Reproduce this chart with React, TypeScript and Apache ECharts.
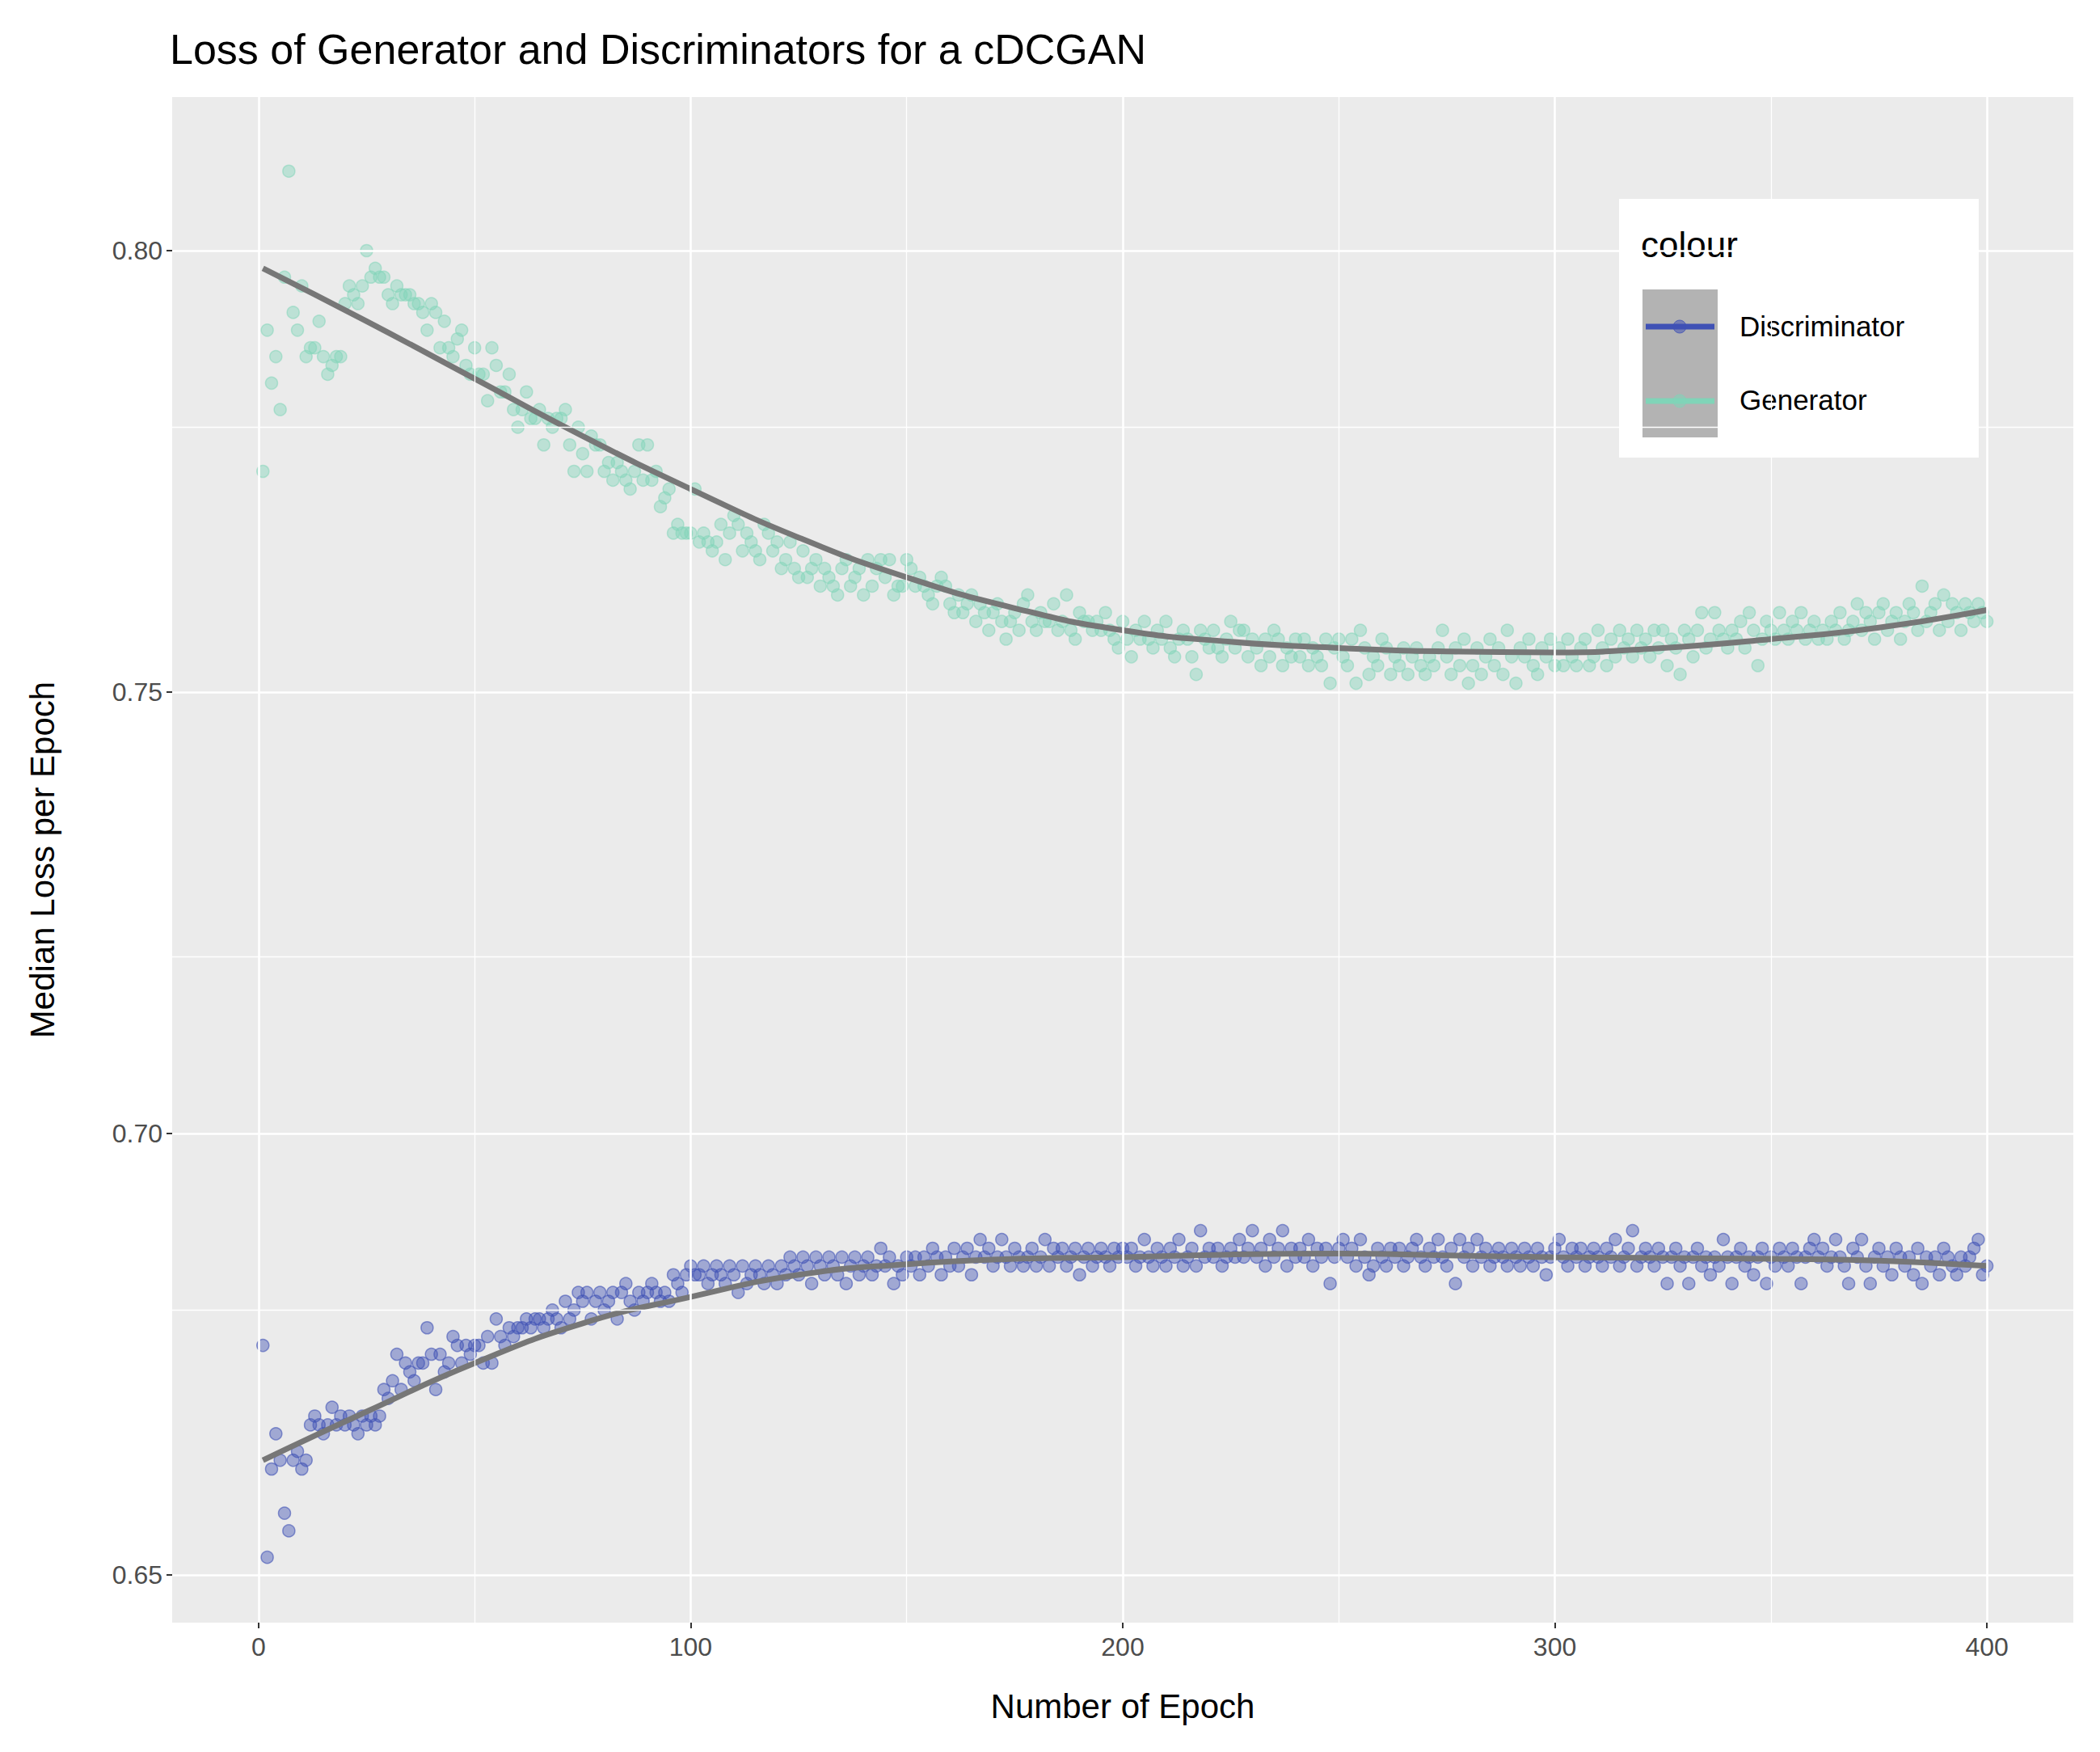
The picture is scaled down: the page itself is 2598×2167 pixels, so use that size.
import React, { useEffect, useRef } from "react";
import * as echarts from "echarts";

const genLoss: number[] = [
0.775,0.791,0.785,0.788,0.782,0.797,0.809,0.793,0.791,0.796,0.788,0.789,0.789,0.792,0.788,0.786,0.787,0.788,0.788,0.794,
0.796,0.795,0.794,0.796,0.800,0.797,0.798,0.797,0.797,0.795,0.794,0.796,0.795,0.795,0.795,0.794,0.794,0.793,0.791,0.794,
0.793,0.789,0.792,0.789,0.788,0.790,0.791,0.787,0.786,0.789,0.786,0.786,0.783,0.789,0.787,0.784,0.784,0.786,0.782,0.780,
0.782,0.784,0.781,0.781,0.782,0.778,0.781,0.780,0.781,0.781,0.782,0.778,0.775,0.780,0.777,0.775,0.779,0.778,0.778,0.775,
0.776,0.774,0.776,0.775,0.774,0.773,0.775,0.778,0.774,0.778,0.774,0.775,0.771,0.772,0.773,0.768,0.769,0.768,0.768,0.768,
0.773,0.767,0.768,0.767,0.766,0.767,0.769,0.765,0.768,0.770,0.769,0.766,0.768,0.767,0.766,0.765,0.769,0.768,0.766,0.767,
0.764,0.765,0.767,0.764,0.763,0.766,0.763,0.764,0.765,0.762,0.764,0.763,0.762,0.761,0.764,0.765,0.762,0.763,0.764,0.761,
0.765,0.762,0.764,0.765,0.763,0.765,0.761,0.762,0.762,0.765,0.764,0.762,0.763,0.762,0.761,0.760,0.762,0.763,0.762,0.760,
0.759,0.761,0.759,0.760,0.761,0.758,0.760,0.759,0.757,0.759,0.760,0.758,0.756,0.758,0.759,0.757,0.760,0.761,0.758,0.757,
0.759,0.758,0.758,0.760,0.757,0.758,0.761,0.757,0.756,0.759,0.758,0.758,0.757,0.758,0.757,0.759,0.757,0.756,0.755,0.758,
0.756,0.754,0.757,0.756,0.758,0.756,0.755,0.757,0.756,0.758,0.755,0.754,0.756,0.757,0.756,0.754,0.752,0.757,0.756,0.755,
0.757,0.755,0.754,0.756,0.758,0.755,0.757,0.757,0.754,0.756,0.755,0.753,0.756,0.754,0.757,0.756,0.753,0.755,0.754,0.756,
0.754,0.756,0.753,0.755,0.754,0.753,0.756,0.751,0.755,0.756,0.754,0.753,0.756,0.751,0.757,0.755,0.752,0.754,0.753,0.756,
0.755,0.752,0.754,0.753,0.755,0.752,0.754,0.755,0.753,0.752,0.754,0.753,0.755,0.757,0.754,0.752,0.755,0.753,0.756,0.751,
0.753,0.755,0.752,0.754,0.756,0.753,0.755,0.752,0.757,0.754,0.751,0.755,0.754,0.756,0.753,0.752,0.755,0.754,0.756,0.753,
0.755,0.753,0.756,0.754,0.753,0.755,0.756,0.753,0.754,0.757,0.755,0.753,0.756,0.754,0.757,0.755,0.756,0.754,0.757,0.755,
0.756,0.754,0.757,0.755,0.757,0.753,0.756,0.755,0.752,0.757,0.756,0.754,0.757,0.759,0.755,0.756,0.759,0.757,0.756,0.755,
0.757,0.756,0.758,0.755,0.759,0.757,0.753,0.756,0.758,0.757,0.756,0.759,0.757,0.756,0.758,0.757,0.759,0.756,0.757,0.758,
0.756,0.757,0.756,0.758,0.757,0.759,0.756,0.757,0.758,0.760,0.757,0.759,0.758,0.756,0.759,0.760,0.757,0.758,0.759,0.756,
0.758,0.760,0.759,0.757,0.762,0.758,0.759,0.760,0.757,0.761,0.758,0.760,0.759,0.757,0.760,0.759,0.758,0.760,0.759,0.758,
];

const discLoss: number[] = [
0.676,0.652,0.662,0.666,0.663,0.657,0.655,0.663,0.664,0.662,0.663,0.667,0.668,0.667,0.666,0.667,0.669,0.667,0.668,0.667,
0.668,0.667,0.666,0.668,0.667,0.668,0.667,0.668,0.671,0.670,0.672,0.675,0.671,0.674,0.673,0.672,0.674,0.674,0.678,0.675,
0.671,0.675,0.673,0.674,0.677,0.676,0.674,0.676,0.675,0.676,0.676,0.674,0.677,0.674,0.679,0.677,0.676,0.678,0.677,0.678,
0.678,0.679,0.678,0.679,0.679,0.678,0.679,0.680,0.679,0.678,0.681,0.679,0.680,0.682,0.681,0.682,0.679,0.681,0.682,0.680,
0.681,0.682,0.679,0.682,0.683,0.681,0.680,0.682,0.681,0.682,0.683,0.682,0.681,0.682,0.681,0.684,0.683,0.682,0.684,0.685,
0.684,0.684,0.685,0.683,0.684,0.685,0.684,0.683,0.685,0.684,0.682,0.685,0.683,0.684,0.685,0.684,0.683,0.685,0.684,0.683,
0.685,0.684,0.686,0.685,0.684,0.686,0.685,0.683,0.686,0.685,0.684,0.686,0.685,0.684,0.686,0.683,0.685,0.686,0.684,0.685,
0.686,0.684,0.685,0.687,0.685,0.686,0.683,0.685,0.684,0.686,0.685,0.686,0.684,0.686,0.685,0.687,0.686,0.684,0.686,0.685,
0.687,0.685,0.686,0.687,0.684,0.686,0.688,0.686,0.687,0.685,0.686,0.688,0.686,0.685,0.687,0.686,0.685,0.686,0.687,0.685,
0.686,0.688,0.685,0.687,0.686,0.687,0.685,0.686,0.687,0.684,0.686,0.687,0.685,0.686,0.687,0.686,0.685,0.687,0.686,0.687,
0.686,0.687,0.685,0.686,0.688,0.686,0.685,0.687,0.686,0.685,0.687,0.686,0.688,0.685,0.686,0.687,0.685,0.689,0.686,0.687,
0.686,0.687,0.685,0.686,0.687,0.686,0.688,0.686,0.687,0.689,0.686,0.687,0.685,0.688,0.686,0.687,0.689,0.685,0.687,0.686,
0.687,0.686,0.688,0.685,0.687,0.686,0.687,0.683,0.686,0.687,0.688,0.686,0.687,0.685,0.688,0.686,0.684,0.685,0.687,0.686,
0.685,0.687,0.686,0.687,0.685,0.686,0.687,0.688,0.686,0.685,0.687,0.686,0.688,0.686,0.685,0.687,0.683,0.688,0.686,0.687,
0.685,0.688,0.686,0.687,0.685,0.686,0.687,0.686,0.685,0.687,0.686,0.685,0.687,0.686,0.685,0.687,0.686,0.684,0.686,0.687,
0.688,0.686,0.685,0.687,0.686,0.687,0.685,0.686,0.687,0.686,0.685,0.687,0.686,0.688,0.685,0.686,0.687,0.689,0.685,0.686,
0.687,0.686,0.685,0.687,0.686,0.683,0.686,0.687,0.685,0.686,0.683,0.686,0.687,0.685,0.686,0.684,0.686,0.685,0.688,0.686,
0.683,0.686,0.687,0.685,0.686,0.684,0.686,0.687,0.683,0.686,0.685,0.687,0.686,0.685,0.687,0.686,0.683,0.686,0.687,0.688,
0.686,0.687,0.685,0.686,0.688,0.686,0.685,0.683,0.687,0.686,0.688,0.685,0.683,0.686,0.687,0.685,0.686,0.684,0.687,0.686,
0.685,0.686,0.684,0.687,0.683,0.686,0.685,0.686,0.684,0.687,0.686,0.685,0.684,0.686,0.685,0.686,0.687,0.688,0.684,0.685,
];

const smoothEpochs = [1, 25, 50, 75, 100, 125, 150, 175, 200, 225, 250, 275, 300, 325, 350, 375, 400];
const genSmooth = [0.798, 0.792, 0.7855, 0.779, 0.773, 0.7675, 0.763, 0.7595, 0.757, 0.7557, 0.755, 0.7546, 0.7545, 0.755, 0.756, 0.7573, 0.7593];
const discSmooth = [0.663, 0.6685, 0.674, 0.6785, 0.6815, 0.684, 0.6852, 0.6858, 0.686, 0.6863, 0.6864, 0.6862, 0.686, 0.6859, 0.6858, 0.6856, 0.685];

const xTicks = [0, 100, 200, 300, 400];
const xMinor = [50, 150, 250, 350];
const yTicks = [0.65, 0.7, 0.75, 0.8];
const yMinor = [0.675, 0.725, 0.775];

const DISC = "rgba(63,81,181,0.55)";
const GEN = "rgba(128,212,184,0.55)";
const FONT = "Liberation Sans, Arial, sans-serif";

export default function App() {
  const ref = useRef<HTMLDivElement>(null);
  useEffect(() => {
    document.body.style.margin = "0";
    const chart = echarts.init(ref.current!, null, { renderer: "svg" });
    const genPts = genLoss.map((v, i) => [i + 1, v]);
    const discPts = discLoss.map((v, i) => [i + 1, v]);
    const gridLines = [
      ...xTicks.map((v) => ({ xAxis: v, lineStyle: { color: "#fff", width: 2.6, type: "solid" } })),
      ...xMinor.map((v) => ({ xAxis: v, lineStyle: { color: "#fff", width: 1.3, type: "solid" } })),
      ...yTicks.map((v) => ({ yAxis: v, lineStyle: { color: "#fff", width: 2.6, type: "solid" } })),
      ...yMinor.map((v) => ({ yAxis: v, lineStyle: { color: "#fff", width: 1.3, type: "solid" } })),
    ];
    const axisLabel = { color: "#4d4d4d", fontSize: 32, fontFamily: FONT };
    chart.setOption({
      animation: false,
      backgroundColor: "#fff",
      title: {
        text: "Loss of Generator and Discriminators for a cDCGAN",
        left: 205, top: 30,
        textStyle: { fontSize: 52, fontWeight: "normal", color: "#000", fontFamily: FONT },
      },
      grid: { left: 213, right: 33, top: 120, bottom: 160, show: true, backgroundColor: "#ebebeb", borderWidth: 0 },
      xAxis: {
        type: "value", min: -20, max: 420,
        name: "Number of Epoch", nameLocation: "middle", nameGap: 82,
        nameTextStyle: { fontSize: 42, color: "#000", fontFamily: FONT },
        axisLine: { show: false, onZero: false },
        axisTick: { show: true, length: 7, lineStyle: { color: "#333", width: 2 }, customValues: xTicks },
        axisLabel: { ...axisLabel, margin: 14, customValues: xTicks },
        splitLine: { show: false },
      },
      yAxis: {
        type: "value", min: 0.6446, max: 0.8174,
        name: "Median Loss per Epoch", nameLocation: "middle", nameGap: 140, nameRotate: 90,
        nameTextStyle: { fontSize: 42, color: "#000", fontFamily: FONT },
        axisLine: { show: false, onZero: false },
        axisTick: { show: true, length: 7, lineStyle: { color: "#333", width: 2 }, customValues: yTicks },
        axisLabel: { ...axisLabel, margin: 12, customValues: yTicks, formatter: (v: number) => v.toFixed(2) },
        splitLine: { show: false },
      },
      series: [
        {
          type: "line", data: [], z: 1, silent: true,
          markLine: { silent: true, symbol: "none", label: { show: false }, data: gridLines, animation: false },
        },
        { type: "scatter", data: discPts, symbolSize: 15, z: 3, itemStyle: { color: DISC, borderColor: "rgba(63,81,181,0.75)", borderWidth: 1.5 } },
        { type: "scatter", data: genPts, symbolSize: 15, z: 3, itemStyle: { color: GEN, borderColor: "rgba(128,212,184,0.65)", borderWidth: 1.5 } },
        { type: "line", data: smoothEpochs.map((e, i) => [e, discSmooth[i]]), smooth: true, showSymbol: false, z: 4, lineStyle: { color: "#777", width: 7 } },
        { type: "line", data: smoothEpochs.map((e, i) => [e, genSmooth[i]]), smooth: true, showSymbol: false, z: 4, lineStyle: { color: "#777", width: 7 } },
      ],
      graphic: [
        { type: "rect", shape: { x: 2003, y: 246, width: 445, height: 320 }, style: { fill: "#fff" } },
        { type: "text", x: 2030, y: 280, style: { text: "colour", fontSize: 44, fill: "#000", fontFamily: FONT } },
        { type: "rect", shape: { x: 2032, y: 358, width: 93, height: 183 }, style: { fill: "#b3b3b3" } },
        { type: "line", shape: { x1: 2036, y1: 404, x2: 2121, y2: 404 }, style: { stroke: "#3F51B5", lineWidth: 7 } },
        { type: "circle", shape: { cx: 2078, cy: 404, r: 8 }, style: { fill: DISC, stroke: "rgba(63,81,181,0.75)" } },
        { type: "line", shape: { x1: 2036, y1: 496, x2: 2121, y2: 496 }, style: { stroke: "#80d4b8", lineWidth: 7 } },
        { type: "circle", shape: { cx: 2078, cy: 496, r: 8 }, style: { fill: GEN, stroke: "rgba(128,212,184,0.65)" } },
        { type: "text", x: 2152, y: 386, style: { text: "Discriminator", fontSize: 35, fill: "#000", fontFamily: FONT } },
        { type: "text", x: 2152, y: 477, style: { text: "Generator", fontSize: 35, fill: "#000", fontFamily: FONT } },
      ],
    });
    return () => chart.dispose();
  }, []);
  return <div ref={ref} style={{ width: 2598, height: 2167 }} />;
}
